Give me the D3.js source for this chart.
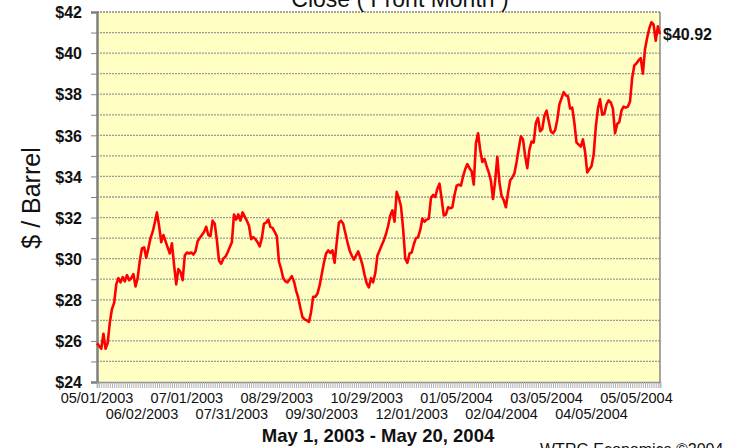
<!DOCTYPE html>
<html><head><meta charset="utf-8">
<script src="https://cdn.jsdelivr.net/npm/d3@7"></script>
<style>body{margin:0;background:#fff}svg{display:block}</style>
</head><body>
<svg id="c" width="734" height="448"></svg>
<script>
// Daily front-month close, $/barrel, May 1 2003 - May 20 2004 (trading days)
const closes = [
25.88,25.75,25.62,26.35,25.62,25.90,26.90,27.55,27.85,28.75,
29.05,28.85,29.10,28.90,29.20,28.95,29.05,29.25,28.65,29.05,
29.90,30.50,30.55,30.05,30.50,31.00,31.30,31.75,32.25,31.60,
30.80,31.15,30.85,30.55,30.25,30.75,29.70,28.75,29.50,29.35,
28.95,30.15,30.30,30.25,30.30,30.20,30.35,30.85,31.00,31.15,
31.30,31.55,31.15,31.10,31.85,31.70,30.90,29.90,29.75,30.00,
30.10,30.30,30.55,30.80,32.15,31.90,32.15,31.85,32.25,32.05,
31.85,31.60,30.95,31.05,30.95,30.80,30.60,31.00,31.70,31.75,
31.90,31.55,31.50,31.30,31.10,29.85,29.50,29.05,28.90,28.85,
29.00,29.15,28.90,28.45,28.10,27.60,27.15,27.05,27.00,26.92,
27.40,28.15,28.15,28.30,28.70,29.25,29.80,30.25,30.40,30.28,
30.40,29.80,30.80,31.75,31.85,31.70,31.25,30.80,30.40,30.15,
29.95,30.15,30.35,30.05,29.70,29.20,28.80,28.60,29.05,28.85,
29.30,30.15,30.40,30.65,30.90,31.20,31.60,32.10,32.35,31.80,
33.25,32.95,32.55,31.45,30.00,29.80,30.25,30.30,30.70,31.00,
31.05,31.40,31.95,31.80,31.90,31.95,32.95,33.10,33.00,33.40,
33.65,32.90,32.10,32.15,32.50,32.45,32.50,33.10,33.55,33.60,
33.55,34.00,34.35,34.60,34.40,34.25,33.60,35.60,36.10,35.30,
34.70,34.85,34.50,34.20,33.80,32.90,33.80,34.95,33.70,33.05,
32.85,32.50,33.20,33.80,33.95,34.15,34.70,35.35,35.95,35.80,
35.00,34.40,35.30,35.70,35.65,36.60,36.85,36.20,36.30,36.95,
37.20,36.70,36.20,36.10,36.25,36.75,37.50,37.80,38.10,37.95,
37.90,37.30,37.35,36.60,35.65,35.55,35.45,35.80,35.20,34.20,
34.35,34.50,35.05,36.40,37.30,37.75,37.00,37.05,37.50,37.70,
37.60,37.30,36.10,36.55,36.65,37.20,37.40,37.35,37.40,37.65,
38.80,39.40,39.50,39.65,39.75,39.00,40.20,40.75,41.20,41.50,
41.40,40.60,41.30,40.92
];
const tickLabels = ["05/01/2003","06/02/2003","07/01/2003","07/31/2003","08/29/2003",
  "09/30/2003","10/29/2003","12/01/2003","01/05/2004","02/04/2004","03/05/2004",
  "04/05/2004","05/05/2004"];
const labelEvery = 21;
const yTickValues = [24,26,28,30,32,34,36,38,40,42];
const gridValues = [25,26,27,28,29,30,31,32,33,34,35,36,37,38,39,40,41];
const title = "Close ( Front Month )";
const yTitle = "$ / Barrel";
const xTitle = "May 1, 2003 - May 20, 2004";
const lastLabel = "$40.92";
const credit = "WTRG Economics \u00a92004";

const FONT = "Arial, 'Liberation Sans', sans-serif";
const svg = d3.select("#c");
const L = 97, R = 660, T = 12, B = 382;
const x = d3.scaleLinear().domain([0, closes.length - 1]).range([L, R]);
const y = d3.scaleLinear().domain([24, 42]).range([B, T]);

// plot background
svg.append("rect").attr("x", L).attr("y", T).attr("width", R - L).attr("height", B - T)
  .attr("fill", "#FFFFC4");

// grid
svg.append("g").selectAll("line").data(gridValues).join("line")
  .attr("x1", L).attr("x2", R).attr("y1", d => y(d)).attr("y2", d => y(d))
  .attr("stroke", "#999").attr("stroke-width", 1.3).attr("stroke-dasharray", "2,1");
// top border
svg.append("line").attr("x1", L).attr("x2", R).attr("y1", T).attr("y2", T)
  .attr("stroke", "#888").attr("stroke-width", 1.3).attr("stroke-dasharray", "2,1");
// right border
svg.append("line").attr("x1", R).attr("x2", R).attr("y1", T).attr("y2", B)
  .attr("stroke", "#888").attr("stroke-width", 1.5);

// y axis
const yAxis = d3.axisLeft(y).tickValues(d3.range(24, 43, 1)).tickSize(6)
  .tickFormat(d => yTickValues.includes(d) ? "$" + d : "");
const gy = svg.append("g").attr("transform", `translate(${L},0)`).call(yAxis);
gy.select(".domain").attr("stroke", "#808080").attr("stroke-width", 2.5);
gy.selectAll(".tick line").attr("stroke", "#808080");
gy.selectAll("text").attr("font-family", FONT)
  .attr("font-size", 16).attr("font-weight", "bold").attr("fill", "#111").attr("x", -15).attr("dy", "0.36em");

// x axis: category ticks every trading day
const xAxis = d3.axisBottom(x).tickValues(d3.range(0, closes.length)).tickSize(6).tickFormat("");
const gx = svg.append("g").attr("transform", `translate(0,${B})`).call(xAxis);
gx.select(".domain").attr("stroke", "#808080").attr("stroke-width", 1.5);
gx.selectAll(".tick line").attr("stroke", "#b0b0b8").attr("stroke-width", 1);

// x labels, staggered
svg.append("g").selectAll("text").data(tickLabels).join("text")
  .attr("x", (d, i) => x(i * labelEvery))
  .attr("y", (d, i) => i % 2 === 0 ? 403 : 419)
  .attr("text-anchor", "middle")
  .attr("font-family", FONT).attr("font-size", 14.5)
  .attr("fill", "#111").text(d => d);

// line
svg.append("path").datum(closes)
  .attr("d", d3.line().x((d, i) => x(i)).y(d => y(d)))
  .attr("fill", "none").attr("stroke", "#FF0000").attr("stroke-width", 2.6)
  .attr("stroke-linejoin", "round");

// last value label
svg.append("text").attr("x", R + 3).attr("y", y(closes[closes.length - 1]) + 6)
  .attr("font-family", FONT).attr("font-size", 16)
  .attr("font-weight", "bold").attr("fill", "#111").text(lastLabel);

// titles
svg.append("text").attr("x", 400).attr("y", 7).attr("text-anchor", "middle")
  .attr("font-family", FONT).attr("font-size", 23)
  .attr("fill", "#111").text(title);
svg.append("text").attr("transform", "translate(40,198) rotate(-90)").attr("text-anchor", "middle")
  .attr("font-family", FONT).attr("font-size", 25)
  .attr("fill", "#111").text(yTitle);
svg.append("text").attr("x", 378).attr("y", 442).attr("text-anchor", "middle")
  .attr("font-family", FONT).attr("font-size", 18.5)
  .attr("font-weight", "bold").attr("fill", "#111").text(xTitle);
svg.append("text").attr("x", 540).attr("y", 455)
  .attr("font-family", FONT).attr("font-size", 16)
  .attr("fill", "#111").text(credit);
</script>
</body></html>
